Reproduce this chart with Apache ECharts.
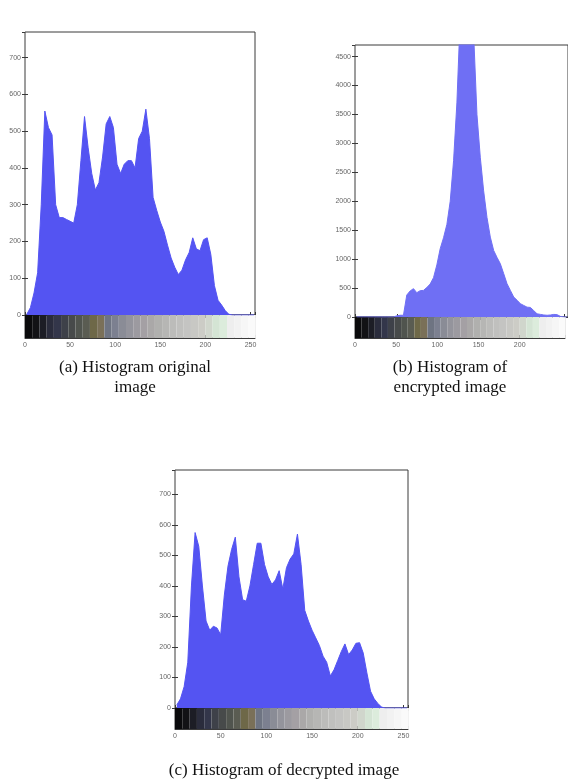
<!DOCTYPE html>
<html>
<head>
<meta charset="utf-8">
<script src="https://cdn.jsdelivr.net/npm/echarts@6/dist/echarts.min.js"></script>
<style>
  html, body { margin: 0; padding: 0; background: #fff; }
  #chart { width: 568px; height: 783px; }
</style>
</head>
<body>
<div id="chart"></div>
<script>
// gray levels are grouped in bins of 4 (0, 4, 8 ... 252)
const binWidth = 4;

// (a) original image histogram
const histOriginal = [
    2, 20, 60, 115, 300, 555, 510, 490, 300, 265, 265, 260, 255, 250, 300, 420,
    540, 455, 385, 340, 360, 430, 520, 540, 510, 410, 385, 410, 420, 420, 400, 480,
    500, 560, 480, 320, 285, 253, 228, 190, 155, 130, 110, 122, 150, 170, 210, 180,
    175, 205, 210, 165, 80, 40, 27, 12, 2, 0, 0, 0, 0, 0, 0, 0
];

// (b) encrypted image histogram (peak is clipped by the axis)
const histEncrypted = [
    0, 0, 0, 0, 0, 0, 0, 0, 0, 0, 0, 0, 20, 30, 30, 380,
    450, 490, 420, 455, 460, 510, 570, 680, 900, 1180, 1370, 1600, 2000, 2700, 3700, 5200,
    6000, 6200, 5800, 4900, 3500, 2760, 2180, 1720, 1380, 1150, 1030, 920, 750, 575, 460, 345,
    290, 230, 200, 170, 165, 110, 55, 45, 35, 30, 35, 45, 40, 10, 0, 0
];

// (c) decrypted image histogram
const histDecrypted = [
    10, 30, 70, 150, 400, 575, 530, 400, 285, 255, 268, 262, 240, 370, 465, 520,
    560, 430, 355, 350, 400, 470, 540, 540, 470, 430, 405, 420, 450, 390, 460, 488,
    505, 570, 470, 320, 285, 255, 230, 205, 170, 150, 105, 125, 155, 185, 210, 175,
    190, 212, 214, 180, 115, 55, 30, 15, 3, 0, 0, 0, 0, 0, 0, 0
];

// gray colorbar under each histogram, 32 cells of 8 levels
const barCell = 8;
const colorbarColors = [
    '#0a0a0c', '#121215', '#1c1d25', '#2a2c3c', '#33364a', '#3e4149', '#474a4a', '#50544e',
    '#5a5c52', '#6e6848', '#7a7058', '#6e7482', '#7c8090', '#8a8c96', '#94949c', '#9c9aa0',
    '#a4a0a4', '#aaa8a8', '#b0b0ae', '#b6b6b4', '#bcbcba', '#c0c0be', '#c4c4c2', '#c8c8c4',
    '#ccccc6', '#d0d6cc', '#d4e4d4', '#dcecdc', '#eeeeee', '#f2f2f2', '#f6f6f6', '#fafafa'
];

const xTicks = [0, 50, 100, 150, 200, 250];
const xTicksCut = [0, 50, 100, 150, 200]; // panel (b) runs off the right edge

const panels = [
    { hist: histOriginal, yMax: 770, yStep: 100, color: '#5454f2', ticks: xTicks,
      left: 25, top: 32, width: 230, height: 283, barH: 23 },
    { hist: histEncrypted, yMax: 4700, yStep: 500, color: '#6f6ff4', ticks: xTicksCut,
      left: 355, top: 45, width: 215, height: 272, barH: 21 },
    { hist: histDecrypted, yMax: 780, yStep: 100, color: '#5454f2', ticks: xTicks,
      left: 175, top: 470, width: 233, height: 238, barH: 21 }
];

const captions = [
    { text: '(a) Histogram original\nimage', x: 135, y: 358 },
    { text: '(b) Histogram of\nencrypted image', x: 450, y: 358 },
    { text: '(c) Histogram of decrypted image', x: 284, y: 761 }
];

const axisColor = '#3a3a3a';
const labelStyle = { color: '#666', fontSize: 7, fontFamily: 'Liberation Sans' };

const grid = [], xAxis = [], yAxis = [], series = [];

panels.forEach((p) => {
    const g = grid.length;
    grid.push({ left: p.left, top: p.top, width: p.width, height: p.height,
        show: true, borderColor: axisColor, borderWidth: 1, backgroundColor: '#fff' });
    grid.push({ left: p.left, top: p.top + p.height, width: p.width, height: p.barH,
        show: true, borderColor: axisColor, borderWidth: 1 });

    const tickCommon = { show: true, inside: true, length: 3, lineStyle: { color: axisColor } };
    const xBase = { type: 'value', min: 0, max: 255, interval: 50, splitLine: { show: false } };

    const xi = xAxis.length;
    xAxis.push(Object.assign({}, xBase, { gridIndex: g, position: 'bottom',
        axisLine: { show: true, lineStyle: { color: axisColor } },
        axisTick: tickCommon, axisLabel: { show: false } }));
    xAxis.push(Object.assign({}, xBase, { gridIndex: g, position: 'top',
        axisLine: { show: false }, axisTick: tickCommon, axisLabel: { show: false } }));
    xAxis.push(Object.assign({}, xBase, { gridIndex: g + 1, position: 'bottom',
        axisLine: { show: true, lineStyle: { color: axisColor } },
        axisTick: tickCommon,
        axisLabel: Object.assign({ margin: 4,
            formatter: (v) => p.ticks.indexOf(v) >= 0 ? String(v) : '' }, labelStyle) }));

    const yi = yAxis.length;
    const yBase = { type: 'value', min: 0, max: p.yMax, interval: p.yStep, splitLine: { show: false } };
    yAxis.push(Object.assign({}, yBase, { gridIndex: g, position: 'left',
        axisLine: { show: false }, axisTick: tickCommon,
        axisLabel: Object.assign({ margin: 4, showMaxLabel: false,
            formatter: (v) => String(v) }, labelStyle) }));
    yAxis.push(Object.assign({}, yBase, { gridIndex: g, position: 'right',
        axisLine: { show: false }, axisTick: tickCommon, axisLabel: { show: false } }));
    yAxis.push({ type: 'value', gridIndex: g + 1, min: 0, max: 1, show: false });

    series.push({
        type: 'line',
        xAxisIndex: xi, yAxisIndex: yi,
        clip: true,
        silent: true,
        showSymbol: false,
        lineStyle: { color: p.color, width: 1 },
        areaStyle: { color: p.color, opacity: 1 },
        data: p.hist.map((v, i) => [i * binWidth + binWidth / 2, v])
    });
    series.push({
        type: 'bar',
        xAxisIndex: xi + 2, yAxisIndex: yi + 2,
        barWidth: '100%',
        silent: true,
        data: colorbarColors.map((c, i) => ({
            value: [i * barCell + barCell / 2, 1],
            itemStyle: { color: c }
        }))
    });
});

const chart = echarts.init(document.getElementById('chart'), null, { renderer: 'canvas' });
chart.setOption({
    animation: false,
    backgroundColor: '#fff',
    grid, xAxis, yAxis, series,
    graphic: captions.map((c) => ({
        type: 'text',
        x: c.x, y: c.y,
        style: {
            text: c.text,
            align: 'center',
            verticalAlign: 'top',
            fill: '#111',
            font: '17px "Liberation Serif"',
            lineHeight: 20
        }
    }))
});
</script>
</body>
</html>
